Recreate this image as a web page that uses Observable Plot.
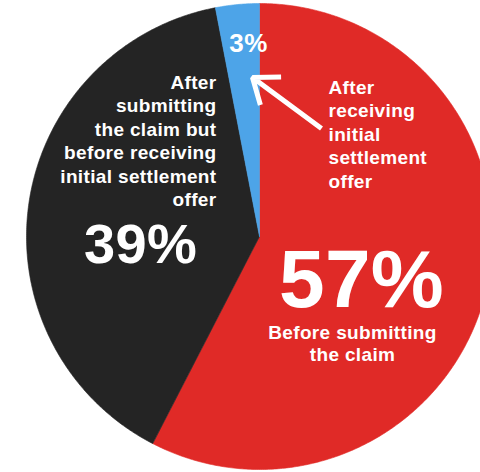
<!DOCTYPE html>
<html>
<head>
<meta charset="utf-8">
<script src="https://cdn.jsdelivr.net/npm/d3@7"></script>
<script src="https://cdn.jsdelivr.net/npm/@observablehq/plot@0.6"></script>
<style>
  html, body { margin: 0; padding: 0; background: #ffffff; }
  #chart { width: 480px; height: 472px; overflow: hidden; }
</style>
</head>
<body>
<div id="chart"></div>
<script>
// ---- data ----
const categories = [
  "Before submitting the claim",
  "After submitting the claim but before receiving initial settlement offer",
  "After receiving initial settlement offer"
];
const shares = [57, 39, 3];
const percentLabels = ["57%", "39%", "3%"];
const sliceColors = ["#e02a27", "#242424", "#4da4e8"];
const descLabels = [
  "Before submitting\nthe claim",
  "After\nsubmitting\nthe claim but\nbefore receiving\ninitial settlement\noffer",
  "After\nreceiving\ninitial\nsettlement\noffer"
];

// ---- layout (pixel geometry of the pie) ----
const W = 480, H = 472;
const CX = 259, CY = 236, R = 233;
const P = (x, y) => [(x - CX) / R, (CY - y) / R]; // pixel -> data units

// ---- slices via d3.pie ----
const arcs = d3.pie().sort(null).value(d => d.v)(categories.map((c, i) => ({c, v: shares[i]})));
const pts = [];
arcs.forEach(a => {
  const c = a.data.c;
  pts.push({c, x: 0, y: 0});
  const n = Math.max(4, Math.ceil((a.endAngle - a.startAngle) / (Math.PI / 360)));
  for (let k = 0; k <= n; k++) {
    const t = a.startAngle + (a.endAngle - a.startAngle) * k / n;
    pts.push({c, x: Math.sin(t), y: Math.cos(t)});
  }
  pts.push({c, x: 0, y: 0});
});

const font = "'Liberation Sans', Arial, Helvetica, sans-serif";
const txt = (s, xy, o) => Plot.text([s], {
  x: () => xy[0], y: () => xy[1], text: d => d, fill: "white",
  fontWeight: "bold", fontFamily: font, lineAnchor: "top", ...o
});

const [ax1, ay1] = P(321, 128);
const [ax2, ay2] = P(252, 77);

const chart = Plot.plot({
  width: W, height: H,
  margin: 0,
  x: {domain: [-CX / R, (W - CX) / R], axis: null},
  y: {domain: [-(H - CY) / R, CY / R], axis: null},
  color: {domain: categories, range: sliceColors},
  style: {background: "white", fontFamily: font, letterSpacing: "0.35px"},
  marks: [
    Plot.line(pts, {x: "x", y: "y", z: "c", fill: "c", stroke: "c", strokeWidth: 0.6, curve: "linear"}),
    txt(percentLabels[2], P(248, 33), {fontSize: 26, textAnchor: "middle"}),
    txt(descLabels[1], P(216, 72), {fontSize: 19, textAnchor: "end", lineHeight: 1.23}),
    txt(percentLabels[1], P(140, 223), {fontSize: 56, textAnchor: "middle"}),
    txt(descLabels[2], P(328, 77), {fontSize: 19, textAnchor: "start", lineHeight: 1.23}),
    txt(percentLabels[0], P(361, 248), {fontSize: 82, textAnchor: "middle"}),
    txt(descLabels[0], P(352, 322), {fontSize: 19, textAnchor: "middle", lineHeight: 1.2}),
    Plot.arrow([0], {x1: () => ax1, y1: () => ay1, x2: () => ax2, y2: () => ay2,
      stroke: "white", strokeWidth: 5, headLength: 18, headAngle: 75, strokeLinecap: "butt"})
  ]
});
document.getElementById("chart").appendChild(chart);
</script>
</body>
</html>
